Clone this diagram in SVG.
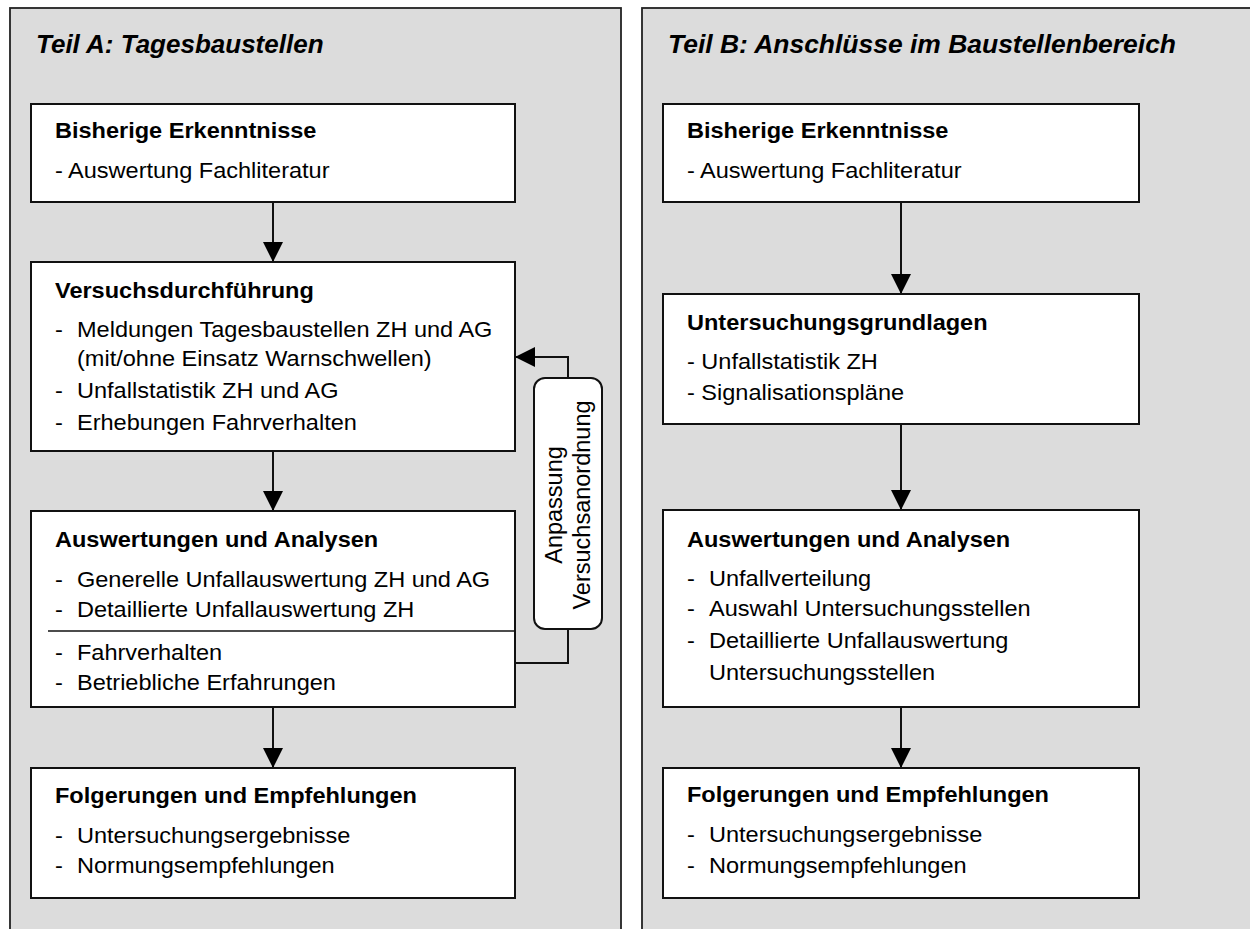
<svg xmlns="http://www.w3.org/2000/svg" width="1250" height="929" viewBox="0 0 1250 929">
<style>
text{font-family:"Liberation Sans",Arial,sans-serif;fill:#000;}
.title{font-size:26px;font-weight:bold;font-style:italic;}
.h{font-size:22px;font-weight:bold;}
.t{font-size:22px;}
.r{font-size:23.5px;}
.panel{fill:#dcdcdc;stroke:#222;stroke-width:1.8;}
.box{fill:#fff;stroke:#111;stroke-width:2;}
.conn{fill:none;stroke:#111;stroke-width:2;}
</style>
<defs>
<marker id="arr" viewBox="0 0 20 20" refX="20" refY="10" markerWidth="20" markerHeight="20" markerUnits="userSpaceOnUse" orient="auto">
<path d="M0,0 L20,10 L0,20 z" fill="#000"/>
</marker>
</defs>
<rect width="1250" height="929" fill="#fff"/>
<g id="panelA">
<rect class="panel" x="10" y="8" width="611" height="940"/>
<text class="title" x="36" y="53">Teil A: Tagesbaustellen</text>
</g>
<g id="panelB">
<rect class="panel" x="642" y="8" width="620" height="940"/>
<text class="title" x="668" y="53" textLength="508" lengthAdjust="spacingAndGlyphs">Teil B: Anschlüsse im Baustellenbereich</text>
</g>
<g id="connectors">
<path class="conn" d="M273,202 V262" marker-end="url(#arr)"/>
<path class="conn" d="M273,451 V511" marker-end="url(#arr)"/>
<path class="conn" d="M273,707 V768" marker-end="url(#arr)"/>
<path class="conn" d="M901,202 V294" marker-end="url(#arr)"/>
<path class="conn" d="M901,424 V510" marker-end="url(#arr)"/>
<path class="conn" d="M901,707 V768" marker-end="url(#arr)"/>
<path class="conn" d="M515,663 H568 V629"/>
<path class="conn" d="M568,378 V357 H515" marker-end="url(#arr)"/>
</g>
<g id="A1">
<rect class="box" x="31" y="104" width="484" height="98"/>
<g transform="scale(1.07 1)">
<text class="h" x="51.402" y="138">Bisherige Erkenntnisse</text>
<text class="t" x="51.402" y="178">- Auswertung Fachliteratur</text>
</g>
</g>
<g id="A2">
<rect class="box" x="31" y="262" width="484" height="189"/>
<g transform="scale(1.07 1)">
<text class="h" x="51.402" y="298">Versuchsdurchführung</text>
<text class="t" x="51.402" y="337">-</text>
<text class="t" x="71.963" y="337">Meldungen Tagesbaustellen ZH und AG</text>
<text class="t" x="71.963" y="366">(mit/ohne Einsatz Warnschwellen)</text>
<text class="t" x="51.402" y="398">-</text>
<text class="t" x="71.963" y="398">Unfallstatistik ZH und AG</text>
<text class="t" x="51.402" y="430">-</text>
<text class="t" x="71.963" y="430">Erhebungen Fahrverhalten</text>
</g>
</g>
<g id="A3">
<rect class="box" x="31" y="511" width="484" height="196"/>
<line x1="48" y1="631" x2="515" y2="631" stroke="#111" stroke-width="1.5"/>
<g transform="scale(1.07 1)">
<text class="h" x="51.402" y="547">Auswertungen und Analysen</text>
<text class="t" x="51.402" y="587">-</text>
<text class="t" x="71.963" y="587">Generelle Unfallauswertung ZH und AG</text>
<text class="t" x="51.402" y="617">-</text>
<text class="t" x="71.963" y="617">Detaillierte Unfallauswertung ZH</text>
<text class="t" x="51.402" y="660">-</text>
<text class="t" x="71.963" y="660">Fahrverhalten</text>
<text class="t" x="51.402" y="690">-</text>
<text class="t" x="71.963" y="690">Betriebliche Erfahrungen</text>
</g>
</g>
<g id="A4">
<rect class="box" x="31" y="768" width="484" height="130"/>
<g transform="scale(1.07 1)">
<text class="h" x="51.402" y="803">Folgerungen und Empfehlungen</text>
<text class="t" x="51.402" y="843">-</text>
<text class="t" x="71.963" y="843">Untersuchungsergebnisse</text>
<text class="t" x="51.402" y="873">-</text>
<text class="t" x="71.963" y="873">Normungsempfehlungen</text>
</g>
</g>
<g id="anpassung">
<rect x="534" y="378" width="68" height="251" rx="11" fill="#fff" stroke="#111" stroke-width="2"/>
<text class="r" text-anchor="middle" transform="translate(562,505) rotate(-90)">Anpassung</text>
<text class="r" text-anchor="middle" transform="translate(590,505) rotate(-90)">Versuchsanordnung</text>
</g>
<g id="B1">
<rect class="box" x="663" y="104" width="476" height="98"/>
<g transform="scale(1.07 1)">
<text class="h" x="642.056" y="138">Bisherige Erkenntnisse</text>
<text class="t" x="642.056" y="178">- Auswertung Fachliteratur</text>
</g>
</g>
<g id="B2">
<rect class="box" x="663" y="294" width="476" height="130"/>
<g transform="scale(1.07 1)">
<text class="h" x="642.056" y="330">Untersuchungsgrundlagen</text>
<text class="t" x="642.056" y="369">- Unfallstatistik ZH</text>
<text class="t" x="642.056" y="400">- Signalisationspläne</text>
</g>
</g>
<g id="B3">
<rect class="box" x="663" y="510" width="476" height="197"/>
<g transform="scale(1.07 1)">
<text class="h" x="642.056" y="547">Auswertungen und Analysen</text>
<text class="t" x="642.056" y="586">-</text>
<text class="t" x="662.617" y="586">Unfallverteilung</text>
<text class="t" x="642.056" y="616">-</text>
<text class="t" x="662.617" y="616">Auswahl Untersuchungsstellen</text>
<text class="t" x="642.056" y="648">-</text>
<text class="t" x="662.617" y="648">Detaillierte Unfallauswertung</text>
<text class="t" x="662.617" y="680">Untersuchungsstellen</text>
</g>
</g>
<g id="B4">
<rect class="box" x="663" y="768" width="476" height="130"/>
<g transform="scale(1.07 1)">
<text class="h" x="642.056" y="802">Folgerungen und Empfehlungen</text>
<text class="t" x="642.056" y="842">-</text>
<text class="t" x="662.617" y="842">Untersuchungsergebnisse</text>
<text class="t" x="642.056" y="873">-</text>
<text class="t" x="662.617" y="873">Normungsempfehlungen</text>
</g>
</g>
</svg>
